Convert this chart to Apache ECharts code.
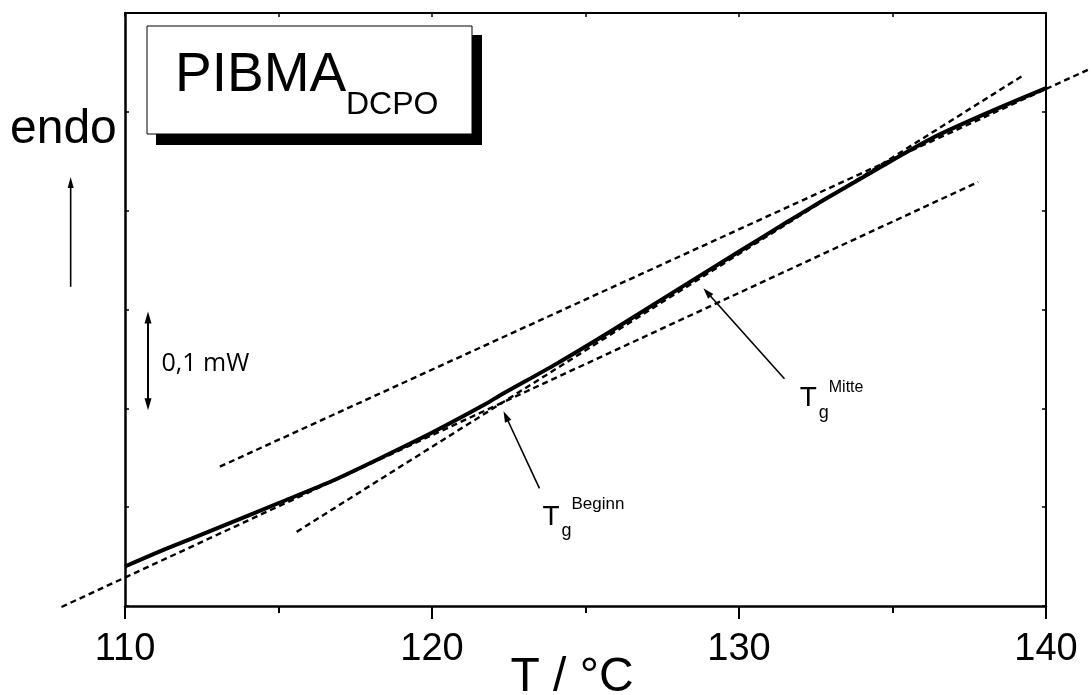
<!DOCTYPE html>
<html><head><meta charset="utf-8">
<script src="https://cdn.jsdelivr.net/npm/echarts@6/dist/echarts.min.js"></script>
<style>html,body{margin:0;padding:0;background:#fff}#c{width:1091px;height:695px}</style>
</head><body><div id="c"></div>
<script>
// ---- data ----
const temps    = [110, 111.35, 113.19, 115.15, 116.78, 118.41, 120.04, 121.67, 122.21, 124.05, 125.77, 127.37, 130.07, 131.54, 132.77, 134.49, 136.33, 138.17, 140];
const heatFlow = [0.040, 0.058, 0.081, 0.106, 0.127, 0.151, 0.176, 0.203, 0.213, 0.245, 0.277, 0.308, 0.360, 0.388, 0.411, 0.442, 0.474, 0.500, 0.524];
// construction lines (two end points each)
const baseLowX  = [107.93, 137.79], baseLowY  = [-0.001, 0.429];
const baseHighX = [113.09, 141.47], baseHighY = [0.141, 0.544];
const tangentX  = [115.59, 139.21], tangentY  = [0.075, 0.536];
const xTicks = [110, 120, 130, 140];
const xMin = 110, xMax = 140;
// annotations in data coordinates
const endoArrow   = [[108.23, 0.323], [108.23, 0.434]];
const scaleBar    = [[110.75, 0.198], [110.75, 0.298]];
const scaleLabel  = [111.19, 0.245];
const beginnArrow = [[123.50, 0.119], [122.33, 0.197]];
const mitteArrow  = [[131.48, 0.230], [128.84, 0.3215]];
const beginnLabel = [123.60, 0.090];
const mitteLabel  = [131.98, 0.210];

const FONT = "'Liberation Sans', Arial, sans-serif";
const chart = echarts.init(document.getElementById('c'), null, {renderer: 'canvas'});
const zip = (xs, ys) => xs.map((x, i) => [x, ys[i]]);
const DASH = [6, 4], DASH_W = 2.4;
const dashStyle = {color: '#000', width: DASH_W, type: DASH};

chart.setOption({
  animation: false,
  backgroundColor: '#fff',
  grid: {left: 125, right: 45, top: 13, bottom: 89, show: false, containLabel: false, outerBoundsMode: 'none'},
  xAxis: [{
    type: 'value', position: 'bottom', min: xMin, max: xMax, interval: 10,
    axisLine: {show: true, onZero: false, lineStyle: {color: '#000', width: 2.5}},
    axisTick: {show: true, inside: false, length: 13, lineStyle: {color: '#000', width: 2}},
    minorTick: {show: true, splitNumber: 2, length: 7, lineStyle: {color: '#000', width: 2}},
    splitLine: {show: false},
    axisLabel: {show: true, color: '#000', fontSize: 38, fontFamily: FONT, margin: 25,
      formatter: v => xTicks.includes(v) ? String(v) : ''},
    name: 'T / °C', nameLocation: 'middle', nameGap: 48, nameMoveOverlap: false,
    nameTextStyle: {color: '#000', fontSize: 48, fontFamily: FONT, padding: [0, 27, 0, 0]}
  }, {
    type: 'value', position: 'top', min: xMin, max: xMax, interval: 5,
    axisLine: {show: true, onZero: false, lineStyle: {color: '#000', width: 2}},
    axisTick: {show: true, inside: true, length: 4, lineStyle: {color: '#000', width: 1.5}},
    axisLabel: {show: false}, splitLine: {show: false}
  }],
  yAxis: [{
    type: 'value', position: 'left', min: 0, max: 0.6, interval: 0.1,
    axisLine: {show: true, onZero: false, lineStyle: {color: '#000', width: 2.5}},
    axisTick: {show: true, inside: true, length: 4, lineStyle: {color: '#000', width: 1.5}},
    axisLabel: {show: false}, splitLine: {show: false}
  }, {
    type: 'value', position: 'right', min: 0, max: 0.6, interval: 0.1,
    axisLine: {show: true, onZero: false, lineStyle: {color: '#000', width: 2}},
    axisTick: {show: true, inside: true, length: 4, lineStyle: {color: '#000', width: 1.5}},
    axisLabel: {show: false}, splitLine: {show: false}
  }],
  series: [
    {name: 'baseline low', type: 'line', data: zip(baseLowX, baseLowY), showSymbol: false, symbol: 'none', clip: false, lineStyle: dashStyle, z: 2},
    {name: 'baseline high', type: 'line', data: zip(baseHighX, baseHighY), showSymbol: false, symbol: 'none', clip: false, lineStyle: dashStyle, z: 2},
    {name: 'tangent', type: 'line', data: zip(tangentX, tangentY), showSymbol: false, symbol: 'none', clip: false, lineStyle: dashStyle, z: 2},
    {name: 'DSC', type: 'line', data: zip(temps, heatFlow), showSymbol: false, symbol: 'none', smooth: 0.25, clip: false,
      lineStyle: {color: '#000', width: 4}, z: 3}
  ]
});

function px(p) { return chart.convertToPixel({gridIndex: 0}, p); }
function arrow(a, b, headLen, headW, lw, both) {
  const p0 = px(a), p1 = px(b);
  const dx = p1[0] - p0[0], dy = p1[1] - p0[1], L = Math.hypot(dx, dy);
  const ux = dx / L, uy = dy / L, nx = -uy, ny = ux;
  const els = [];
  const head = (t, sx, sy) => ({type: 'polygon', z: 10, shape: {points: [
    [t[0], t[1]],
    [t[0] - sx * headLen + nx * headW, t[1] - sy * headLen + ny * headW],
    [t[0] - sx * headLen - nx * headW, t[1] - sy * headLen - ny * headW]]}, style: {fill: '#000'}});
  const s0 = both ? [p0[0] + ux * headLen * 0.8, p0[1] + uy * headLen * 0.8] : p0;
  const s1 = [p1[0] - ux * headLen * 0.8, p1[1] - uy * headLen * 0.8];
  els.push({type: 'line', z: 10, shape: {x1: s0[0], y1: s0[1], x2: s1[0], y2: s1[1]}, style: {stroke: '#000', lineWidth: lw}});
  els.push(head(p1, ux, uy));
  if (both) els.push(head(p0, -ux, -uy));
  return els;
}
// parts of the construction lines that reach beyond the plot frame
function extensions(xs, ys) {
  const k = (ys[1] - ys[0]) / (xs[1] - xs[0]);
  const at = x => ys[0] + k * (x - xs[0]);
  const out = [];
  const seg = (a, b) => {
    const p = px(a), q = px(b);
    out.push({type: 'line', z: 2, shape: {x1: p[0], y1: p[1], x2: q[0], y2: q[1]},
      style: {stroke: '#000', lineWidth: DASH_W, lineDash: DASH}});
  };
  if (xs[0] < xMin) seg([xs[0], ys[0]], [xMin, at(xMin)]);
  if (xs[1] > xMax) seg([xMax, at(xMax)], [xs[1], ys[1]]);
  return out;
}
function txt(x, y, text, size, family, align) {
  return {type: 'text', z: 10, x: x, y: y, style: {text: text, fontSize: size, fontFamily: family || FONT, fill: '#000', align: align || 'left', verticalAlign: 'middle'}};
}
const sl = px(scaleLabel), bl = px(beginnLabel), ml = px(mitteLabel);
const g = [];
g.push(...extensions(baseLowX, baseLowY));
g.push(...extensions(baseHighX, baseHighY));
g.push(...extensions(tangentX, tangentY));
// title box with shadow
g.push({type: 'rect', z: 9, shape: {x: 156, y: 35, width: 326, height: 110}, style: {fill: '#000'}});
g.push({type: 'rect', z: 9, shape: {x: 147, y: 26, width: 325, height: 108}, style: {fill: '#fff', stroke: '#000', lineWidth: 1}});
g.push(txt(175, 76, 'PIBMA', 55));
g.push(txt(346, 105, 'DCPO', 32));
g.push(txt(10, 130, 'endo', 48));
g.push(...arrow(endoArrow[0], endoArrow[1], 11, 3, 1.6, false));
g.push(...arrow(scaleBar[0], scaleBar[1], 12, 3.5, 2, true));
g.push(txt(sl[0], sl[1], '0,1 mW', 25, "'Open Sans', 'Noto Sans', sans-serif"));
g.push(...arrow(beginnArrow[0], beginnArrow[1], 11, 3.5, 1.6, false));
g.push(...arrow(mitteArrow[0], mitteArrow[1], 11, 3.5, 1.6, false));
g.push(txt(bl[0], bl[1], 'T', 28));
g.push(txt(bl[0] + 19, bl[1] + 14, 'g', 18));
g.push(txt(bl[0] + 29, bl[1] - 13, 'Beginn', 17));
g.push(txt(ml[0], ml[1], 'T', 28));
g.push(txt(ml[0] + 19, ml[1] + 15, 'g', 18));
g.push(txt(ml[0] + 29, ml[1] - 11, 'Mitte', 16));
chart.setOption({graphic: g});
</script></body></html>
